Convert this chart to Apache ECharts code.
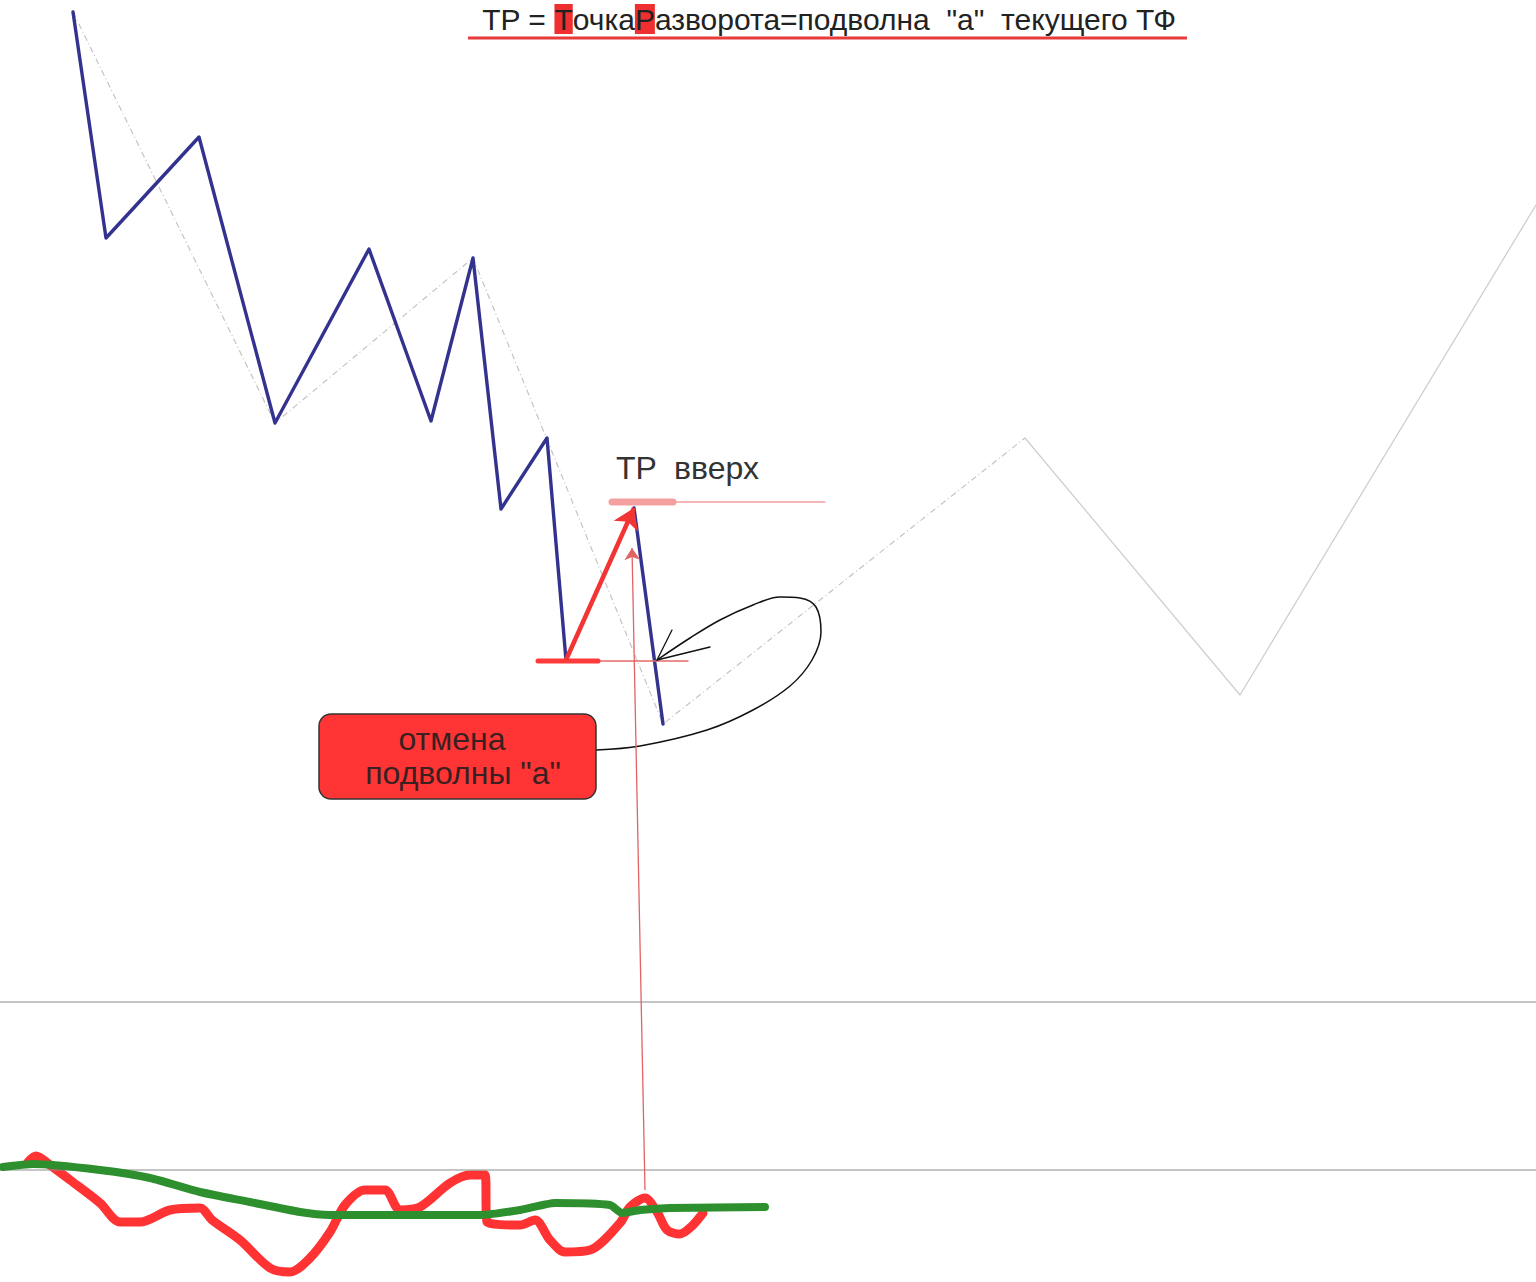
<!DOCTYPE html>
<html><head><meta charset="utf-8">
<script src="https://cdn.jsdelivr.net/npm/echarts@6/dist/echarts.min.js"></script>
<style>html,body{margin:0;padding:0;background:#fff}#c{width:1536px;height:1282px}</style>
</head><body><div id="c"></div>
<script>
// ---- data (chart units = picture units) ----
const waveMain = [[73,12],[106,238],[199,137],[275,423],[369,249],[431,421],[473,258],[501,509],[547,438],[566,660]];
const waveLast = [[634,508],[663,724]];
const higherWaveDashed = [[73,12],[275,423],[473,258],[663,724],[1025,438]];
const higherWaveSolid = [[1025,438],[1240,695],[1536,205]];
const tpArrow = [[566,660],[634,508]];
const signalArrow = [[645,1190],[632,548]];
const lowLevelThick = [[538,661],[598,661]];
const lowLevelThin = [[598,661],[688,661]];
const tpLevelThick = [[612,502],[673,502]];
const tpLevelThin = [[673,502],[825,502]];
const panelLines = [1002, 1170];
const calloutLoop = [[596,750],[640,746],[707,730],[753,710],[790,686],[812,660],[821,632],[816,607],[800,598],[780,597],[753,605],[720,620],[690,638],[657,660]];
const calloutHead = [[672,630],[657,660],[710,647]];
const greenOsc = [[3,1167],[33,1164],[100,1170],[150,1178],[200,1192],[250,1202],[300,1212],[330,1215],[480,1215],[520,1210],[555,1203],[610,1205],[622,1213],[640,1210],[670,1208],[765,1207]];
const redOsc = [[28,1162],[36,1156],[50,1165],[70,1180],[100,1203],[120,1222],[140,1222],[170,1210],[200,1208],[212,1220],[240,1240],[270,1268],[290,1272],[310,1258],[330,1232],[345,1205],[365,1190],[385,1190],[400,1210],[420,1207],[450,1183],[470,1175],[485,1175],[487,1222],[520,1225],[535,1220],[550,1240],[565,1252],[590,1250],[620,1223],[630,1207],[645,1198],[657,1212],[667,1230],[680,1234],[692,1226],[703,1213]];
const titleText = 'TP = {h|Т}очка{h|Р}азворота=подволна  "а"  текущего ТФ';
const tpLabel = 'TP  вверх';
const calloutLine1 = 'отмена';
const calloutLine2 = 'подволны "а"';

const FONT = 'Liberation Sans, Arial, sans-serif';
function line(data, color, width, extra) {
  return Object.assign({type:'line', data, symbol:'none', silent:true, animation:false,
    lineStyle:{color, width, cap:'round', join:'round'}}, extra||{});
}
function arrow(pts, color, width, size) {
  return {type:'line', data:[], silent:true, animation:false,
    markLine:{silent:true, animation:false, symbol:['none','arrow'], symbolSize:size,
      label:{show:false}, lineStyle:{color, width, type:'solid'},
      data:[[{coord:pts[0]},{coord:pts[1]}]]}};
}
const panelData = [];
panelLines.forEach((y,i)=>{ if(i) panelData.push(null); panelData.push([0,y],[1536,y]); });
const chart = echarts.init(document.getElementById('c'), null, {renderer:'svg'});
chart.setOption({
  backgroundColor:'#ffffff',
  grid:{left:0,right:0,top:0,bottom:0},
  xAxis:{type:'value',min:0,max:1536,show:false},
  yAxis:{type:'value',min:0,max:1282,inverse:true,show:false},
  series:[
    line(panelData, '#8c8c8c', 1.2, {connectNulls:false}),
    line(higherWaveDashed, '#c9c9c9', 1.2, {lineStyle:{color:'#c4c4c4',width:1.2,type:[6,3,1,3]}}),
    line(higherWaveSolid, '#cfcfcf', 1.3),
    line(waveMain, '#33338f', 3.4),
    line(waveLast, '#33338f', 3.4),
    line(lowLevelThin, '#e46a6a', 1.5),
    line(lowLevelThick, '#ff3a3a', 5),
    line(tpLevelThin, '#f2a0a0', 1.5),
    line(tpLevelThick, '#f4a0a0', 7),
    arrow(tpArrow, '#f23434', 4.5, 20),
    arrow(signalArrow, '#e06464', 1.3, 12),
    line(calloutLoop, '#111', 1.5, {smooth:0.35}),
    line(calloutHead, '#111', 1.3),
    line(greenOsc, '#2e8f2e', 8, {smooth:0.2, z:3}),
    line(redOsc, '#ff3333', 9, {smooth:0.3, z:2})
  ],
  graphic:[
    {type:'text', x:829, y:19, z:10, style:{text:titleText, align:'center', verticalAlign:'middle',
      font:'30px '+FONT, fill:'#222', lineHeight:30,
      rich:{h:{backgroundColor:'#f03030', fontSize:30, fontFamily:FONT, color:'#222', lineHeight:30}}}},
    {type:'line', z:10, shape:{x1:468,y1:38,x2:1187,y2:38}, style:{stroke:'#e83a3a', lineWidth:3}},
    {type:'text', x:616, y:468, z:10, style:{text:tpLabel, align:'left', verticalAlign:'middle', font:'32px '+FONT, fill:'#333'}},
    {type:'rect', z:10, shape:{x:319,y:714,width:277,height:85,r:12}, style:{fill:'#ff3535', stroke:'#333', lineWidth:1.5}},
    {type:'text', x:452, y:739, z:11, style:{text:calloutLine1, align:'center', verticalAlign:'middle', font:'32px '+FONT, fill:'#3a2020'}},
    {type:'text', x:463, y:773, z:11, style:{text:calloutLine2, align:'center', verticalAlign:'middle', font:'32px '+FONT, fill:'#3a2020'}}
  ]
});
</script></body></html>
